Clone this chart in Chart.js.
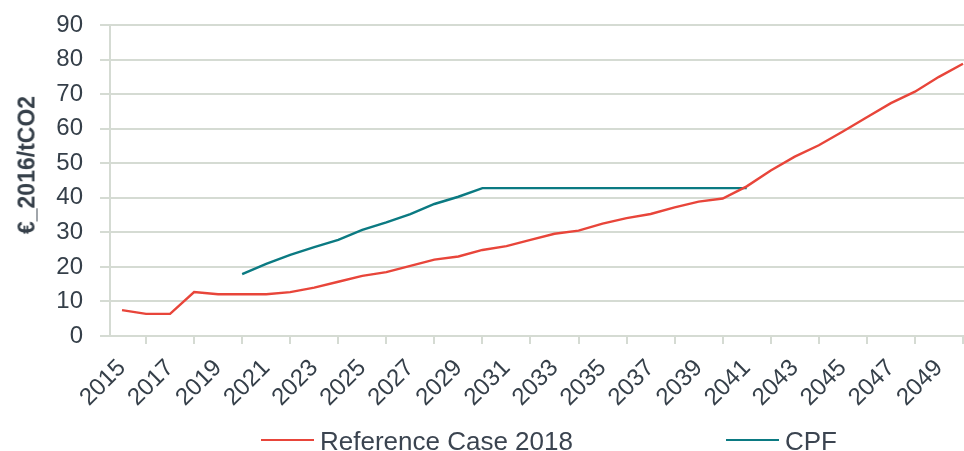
<!DOCTYPE html>
<html>
<head>
<meta charset="utf-8">
<script src="https://cdn.jsdelivr.net/npm/chart.js@4.4.0/dist/chart.umd.min.js"></script>
<style>
  html, body { margin: 0; padding: 0; background: #fff; overflow: hidden; }
  #wrap { position: relative; width: 964px; height: 451px; overflow: hidden; }
  #ytitle { position: absolute; left: 27px; top: 165px; transform: translate(-50%, -50%) rotate(-90deg);
            white-space: nowrap; font-family: "Liberation Sans", Arial, sans-serif; font-weight: bold;
            font-size: 23px; color: #353f49; }
  #legend { position: absolute; left: 0; top: 424px; width: 964px; height: 30px;
            font-family: "Liberation Sans", Arial, sans-serif; font-size: 26px; color: #3b4450; }
  .item { position: absolute; top: 0; height: 30px; line-height: 30px; white-space: nowrap; }
  .item i { position: absolute; top: 15px; height: 2px; width: 53px; }
  .item span { position: absolute; left: 59px; top: 2px; }
</style>
</head>
<body>
<div id="wrap">
  <canvas id="chart" width="976" height="451"></canvas>
  <div id="ytitle">€_2016/tCO2</div>
  <div id="legend">
    <div class="item" style="left:261px"><i style="background:#e8453a"></i><span>Reference Case 2018</span></div>
    <div class="item" style="left:726px"><i style="background:#0b7a82"></i><span>CPF</span></div>
  </div>
</div>
<script>
// 年份（类别轴）
const years = [];
for (let y = 2015; y <= 2050; y++) years.push(String(y));

// Reference Case 2018 (€_2016/tCO2)
const referenceCase = [
  7.5, 6.4, 6.4, 12.7, 12.1, 12.1, 12.1, 12.7, 14.0, 15.7,
  17.4, 18.5, 20.3, 22.1, 23.0, 24.9, 26.0, 27.8, 29.6, 30.5,
  32.5, 34.1, 35.3, 37.2, 38.9, 39.8, 43.3, 47.9, 51.9, 55.2,
  59.2, 63.3, 67.4, 70.7, 75.0, 78.8
];

// CPF (2020 - 2041)
const cpf = [
  null, null, null, null, null, 17.9, 20.9, 23.5, 25.7, 27.8,
  30.7, 32.9, 35.3, 38.2, 40.3, 42.8, 42.8, 42.8, 42.8, 42.8,
  42.8, 42.8, 42.8, 42.8, 42.8, 42.8, 42.8
];

const yTicks = [0, 10, 20, 30, 40, 50, 60, 70, 80, 90];

const gridColor = '#d5dbd3';
const textColor = '#353f49';
const font = 'Liberation Sans, Arial, sans-serif';

new Chart(document.getElementById('chart'), {
  type: 'line',
  data: {
    labels: years,
    datasets: [
      {
        label: 'Reference Case 2018',
        data: referenceCase,
        borderColor: '#e8453a',
        borderWidth: 2.4,
        pointRadius: 0,
        tension: 0
      },
      {
        label: 'CPF',
        data: cpf,
        borderColor: '#0b7a82',
        borderWidth: 2.4,
        pointRadius: 0,
        tension: 0
      }
    ]
  },
  options: {
    responsive: false,
    animation: false,
    layout: { padding: { top: 25, right: 1, left: 0, bottom: 0 } },
    plugins: {
      legend: { display: false },
      tooltip: { enabled: false }
    },
    scales: {
      x: {
        offset: true,
        grid: { offset: true, drawOnChartArea: false, color: gridColor, lineWidth: 2, tickLength: 8 },
        border: { display: true, color: gridColor, width: 2 },
        ticks: {
          autoSkip: false,
          minRotation: 45,
          maxRotation: 45,
          padding: 10,
          color: textColor,
          font: { family: font, size: 24 },
          callback: function (v, i) { return i % 2 === 0 ? years[i] : null; }
        },
        afterFit: function (s) { s.height = 115; s.paddingLeft = 0; s.paddingRight = 0; }
      },
      y: {
        min: 0,
        max: 90,
        afterBuildTicks: function (s) { s.ticks = yTicks.map(v => ({ value: v })); },
        grid: { color: gridColor, lineWidth: 2, tickLength: 10 },
        border: { display: true, color: gridColor, width: 2 },
        ticks: {
          padding: 17,
          color: textColor,
          font: { family: font, size: 24 }
        },
        afterFit: function (s) { s.width = 110; s.paddingTop = 0; s.paddingBottom = 0; }
      }
    }
  }
});
</script>
</body>
</html>
